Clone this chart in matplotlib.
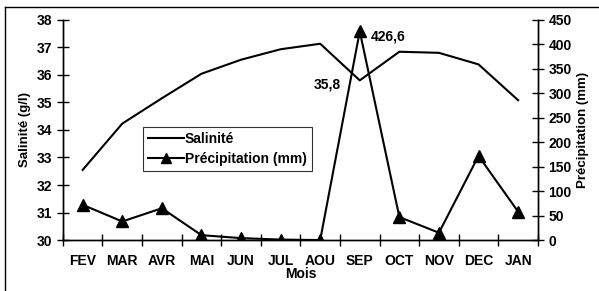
import matplotlib
matplotlib.use("Agg")
import matplotlib.pyplot as plt
from matplotlib.lines import Line2D

plt.rcParams['font.family'] = ['Liberation Sans', 'DejaVu Sans']
plt.rcParams['font.weight'] = 'bold'

# data
mois = ["FEV", "MAR", "AVR", "MAI", "JUN", "JUL", "AOU", "SEP", "OCT", "NOV", "DEC", "JAN"]
salinite = [32.55, 34.23, 35.15, 36.04, 36.55, 36.93, 37.13, 35.8, 36.84, 36.8, 36.38, 35.08]
precipitation = [72, 38, 65, 10, 4, 1, 0, 426.6, 47, 15, 172, 58]

fig = plt.figure(figsize=(5.99, 2.91), dpi=100)
ax = fig.add_axes([0.105, 0.175, 0.793, 0.757])
ax2 = ax.twinx()

x = range(len(mois))
ax.plot(x, salinite, color="black", lw=1.5)
ax2.plot(x, precipitation, color="black", lw=1.5, marker="^", markersize=9)

ax.set_xlim(-0.5, len(mois) - 0.5)
ax.set_ylim(30, 38)
ax2.set_ylim(0, 450)
ax.set_xticks([i + 0.5 for i in range(-1, len(mois))], minor=False)
ax.set_xticklabels([])
ax.set_xticks(list(x), minor=True)
ax.set_xticklabels(mois, minor=True)
ax.tick_params(axis="x", which="major", direction="inout", length=8, width=1)
ax.tick_params(axis="x", which="minor", length=0, pad=10, labelsize=10)
ax.tick_params(axis="y", direction="inout", length=8, width=1, labelsize=10)
ax2.tick_params(axis="y", direction="inout", length=8, width=1, labelsize=10)
ax.set_yticks(range(30, 39))
ax2.set_yticks(range(0, 451, 50))

for a in (ax, ax2):
    a.spines["top"].set_visible(False)
    for s in ("left", "right", "bottom"):
        a.spines[s].set_linewidth(1)

ax.set_ylabel("Salinité (g/l)", fontsize=9.5, fontweight="bold", labelpad=4)
ax2.set_ylabel("Précipitation (mm)", fontsize=9.5, fontweight="bold", labelpad=4)
ax.set_xlabel("Mois", fontsize=10, fontweight="bold", labelpad=-1)

ax2.annotate("426,6", xy=(7, 426.6), xytext=(8, -7), textcoords="offset points",
             fontsize=10, fontweight="bold")
ax.annotate("35,8", xy=(7, 35.8), xytext=(-33, -6), textcoords="offset points",
            fontsize=10, fontweight="bold")

handles = [Line2D([], [], color="black", lw=1.5),
           Line2D([], [], color="black", lw=1.5, marker="^", markersize=7)]
leg = ax2.legend(handles, ["Salinité", "Précipitation (mm)"], loc="upper left",
                 bbox_to_anchor=(0.168, 0.514), fontsize=10, frameon=True,
                 fancybox=False, edgecolor="black", handlelength=2.6,
                 handletextpad=0.1, borderpad=0.35, labelspacing=0.45,
                 borderaxespad=0)
leg.get_frame().set_linewidth(0.8)

# outer frame (left and top only)
fig.add_artist(Line2D([0.009, 0.009], [0, 0.976], color="black", lw=1))
fig.add_artist(Line2D([0.009, 1], [0.976, 0.976], color="black", lw=1))

fig.savefig("out.png", dpi=100)
